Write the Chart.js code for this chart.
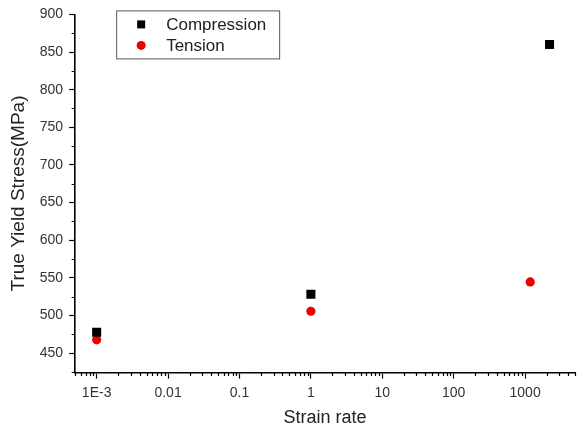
<!DOCTYPE html>
<html lang="en">
<head>
    <meta charset="UTF-8">
    <title>True Yield Stress vs Strain rate</title>
    <script src="https://cdn.jsdelivr.net/npm/chart.js@4"></script>
    <style>
        html, body { margin: 0; padding: 0; background: #fff; }
        #wrap { width: 583px; height: 431px; }
    </style>
</head>
<body>
    <div id="wrap"><canvas id="myChart" width="583" height="431"></canvas></div>

    <script>
        // data
        const compressionRate = [0.001, 1, 2200];
        const compressionStress = [477.5, 528, 860];
        const tensionRate = [0.001, 1, 1180];
        const tensionStress = [467.5, 505.5, 544.5];

        const xTickValues = [0.001, 0.01, 0.1, 1, 10, 100, 1000];
        const xTickLabels = ['1E-3', '0.01', '0.1', '1', '10', '100', '1000'];
        const yTickValues = [450, 500, 550, 600, 650, 700, 750, 800, 850, 900];

        const font = "'Liberation Sans', Arial, sans-serif";

        // minor ticks on both axes, plus the boxed legend
        const extras = {
            id: 'extras',
            afterDraw(chart) {
                const ctx = chart.ctx;
                const xs = chart.scales.x, ys = chart.scales.y;
                const area = chart.chartArea;
                ctx.save();
                ctx.strokeStyle = '#000';
                ctx.lineWidth = 1.2;
                ctx.beginPath();
                for (let d = -4; d <= 3; d++) {
                    for (let m = 2; m <= 9; m++) {
                        const v = m * Math.pow(10, d);
                        if (v < xs.min || v > xs.max) continue;
                        const px = Math.round(xs.getPixelForValue(v)) + 0.5;
                        ctx.moveTo(px, area.bottom);
                        ctx.lineTo(px, area.bottom + 3.5);
                    }
                }
                for (let v = 425; v < 900; v += 50) {
                    const py = Math.round(ys.getPixelForValue(v)) + 0.5;
                    ctx.moveTo(area.left, py);
                    ctx.lineTo(area.left - 3.5, py);
                }
                ctx.stroke();

                // legend
                const lx = area.left + 41, ly = area.top - 4;
                const lw = 163, lh = 48;
                ctx.lineWidth = 1;
                ctx.strokeStyle = '#555';
                ctx.strokeRect(lx + 0.5, ly + 0.5, lw, lh);
                ctx.font = '17px ' + font;
                ctx.textBaseline = 'middle';
                chart.data.datasets.forEach((ds, i) => {
                    const cy = ly + 14 + i * 21;
                    ctx.fillStyle = ds.backgroundColor;
                    if (ds.pointStyle === 'rect') {
                        ctx.fillRect(lx + 21, cy - 4, 8, 8);
                    } else {
                        ctx.beginPath();
                        ctx.arc(lx + 25, cy, 4.5, 0, Math.PI * 2);
                        ctx.fill();
                    }
                    ctx.fillStyle = '#222';
                    ctx.fillText(ds.label, lx + 50, cy + 1);
                });
                ctx.restore();
            }
        };

        const ctx = document.getElementById('myChart').getContext('2d');
        new Chart(ctx, {
            type: 'scatter',
            data: {
                datasets: [{
                    label: 'Compression',
                    data: compressionRate.map((x, i) => ({ x: x, y: compressionStress[i] })),
                    pointStyle: 'rect',
                    pointRadius: 6.4,
                    backgroundColor: '#000',
                    borderColor: '#000',
                    borderWidth: 0
                }, {
                    label: 'Tension',
                    data: tensionRate.map((x, i) => ({ x: x, y: tensionStress[i] })),
                    pointStyle: 'circle',
                    pointRadius: 4.6,
                    backgroundColor: '#ee0000',
                    borderColor: '#ee0000',
                    borderWidth: 0
                }]
            },
            options: {
                responsive: false,
                animation: false,
                layout: { padding: { top: 12, right: 8, left: 0, bottom: 2 } },
                plugins: {
                    legend: { display: false },
                    tooltip: { enabled: false }
                },
                scales: {
                    x: {
                        type: 'logarithmic',
                        min: 0.0005,
                        max: 5000,
                        afterBuildTicks: (scale) => {
                            scale.ticks = xTickValues.map(v => ({ value: v }));
                        },
                        ticks: {
                            autoSkip: false,
                            maxRotation: 0,
                            padding: 6,
                            color: '#333',
                            font: { family: font, size: 14 },
                            callback: (v) => xTickLabels[xTickValues.indexOf(v)] ?? ''
                        },
                        grid: { display: true, drawOnChartArea: false, tickLength: 6, color: '#000', tickWidth: 1.2 },
                        border: { display: true, color: '#000', width: 1.6 },
                        title: {
                            display: true,
                            text: 'Strain rate',
                            color: '#222',
                            font: { family: font, size: 18 },
                            padding: { top: 0, bottom: 0 }
                        }
                    },
                    y: {
                        min: 424,
                        max: 900,
                        afterBuildTicks: (scale) => {
                            scale.ticks = yTickValues.map(v => ({ value: v }));
                        },
                        ticks: {
                            padding: 6,
                            color: '#333',
                            font: { family: font, size: 14 }
                        },
                        grid: { display: true, drawOnChartArea: false, tickLength: 6, color: '#000', tickWidth: 1.2 },
                        border: { display: true, color: '#000', width: 1.6 },
                        title: {
                            display: true,
                            text: 'True Yield Stress(MPa)',
                            color: '#222',
                            font: { family: font, size: 19 },
                            padding: { top: 7, bottom: 4 }
                        }
                    }
                }
            },
            plugins: [extras]
        });
    </script>
</body>
</html>
